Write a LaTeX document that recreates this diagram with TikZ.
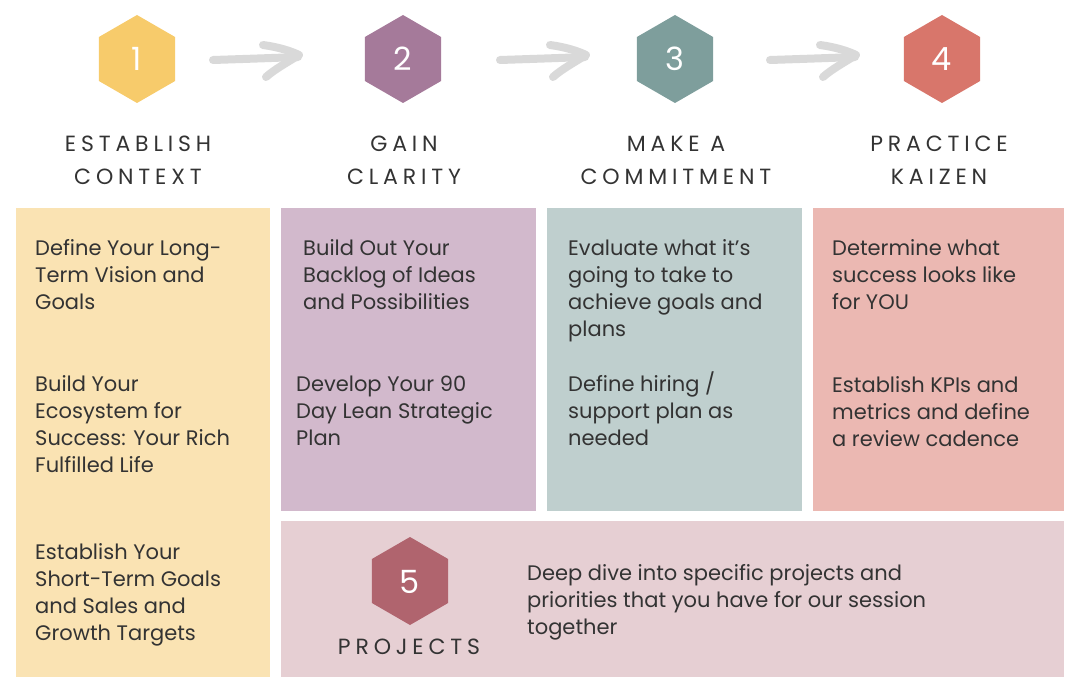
\documentclass[tikz,border=0pt]{standalone}
\usepackage{fontspec}
\setmainfont{Poppins}
\newfontfamily\titlefont[LetterSpace=22]{Poppins}
\usetikzlibrary{shapes.geometric}
\definecolor{txt}{HTML}{333333}
\definecolor{hexA}{HTML}{F7CB6B}
\definecolor{hexB}{HTML}{A57A9A}
\definecolor{hexC}{HTML}{7E9E9C}
\definecolor{hexD}{HTML}{D8766B}
\definecolor{hexE}{HTML}{B0646E}
\definecolor{boxA}{HTML}{FAE3B3}
\definecolor{boxB}{HTML}{D2B9CC}
\definecolor{boxC}{HTML}{BFCFCE}
\definecolor{boxD}{HTML}{EBB8B2}
\definecolor{boxE}{HTML}{E6CFD3}
\definecolor{arrowgrey}{HTML}{D9D9D9}
\tikzset{
  hexnode/.style={regular polygon, regular polygon sides=6, shape border rotate=90, minimum size=88pt, inner sep=0pt},
  numtext/.style={text=white, font=\fontsize{32}{32}\selectfont, inner sep=0pt, anchor=base},
  titletext/.style={text=txt, font=\titlefont\fontsize{22}{33}\selectfont, align=center, anchor=base, inner sep=0pt},
  bodytext/.style={text=txt, font=\fontsize{21}{27}\selectfont, align=left, anchor=base west, inner sep=0pt},
  handarrow/.style={draw=arrowgrey, line width=8pt, line cap=round, line join=round},
}
\begin{document}
\begin{tikzpicture}[x=1pt,y=-1pt]
\useasboundingbox (0,0) rectangle (1080,693);
% boxes
\fill[boxA] (16,208) rectangle (270,677);
\fill[boxB] (281,208) rectangle (536,511);
\fill[boxC] (547,208) rectangle (802,511);
\fill[boxD] (813,208) rectangle (1064,511);
\fill[boxE] (281,521) rectangle (1064,677);
% hexagons
\node[hexnode, fill=hexA] (h1) at (137,59) {};
\node[hexnode, fill=hexB] (h2) at (403,59) {};
\node[hexnode, fill=hexC] (h3) at (675,59) {};
\node[hexnode, fill=hexD] (h4) at (942,59) {};
\node[hexnode, fill=hexE] (h5) at (410,581) {};
\node[numtext] (n1) at (137,71) {1};
\node[numtext] (n2) at (403,71) {2};
\node[numtext] (n3) at (675,71) {3};
\node[numtext] (n4) at (942,71) {4};
\node[numtext] (n5) at (410,593) {5};
% arrows
\foreach \ax in {213,500,770}{
  \coordinate (a\ax) at (\ax,60);
  \draw[handarrow, shift={(a\ax)}] (0,0) .. controls (30,-1) and (60,-2) .. (85,-3);
  \draw[handarrow, shift={(a\ax)}] (50,-15) .. controls (65,-13) and (78,-9) .. (86,-5) .. controls (75,2) and (62,9) .. (53,17);
}
% titles (anchor = baseline of last line)
\node[titletext] (t1) at (138,184) {ESTABLISH\\CONTEXT};
\node[titletext] (t2) at (404,184) {GAIN\\CLARITY};
\node[titletext] (t3) at (676,184) {MAKE A\\COMMITMENT};
\node[titletext] (t4) at (939,184) {PRACTICE\\KAIZEN};
\node[titletext] (t5) at (409,654) {PROJECTS};
% body text (anchor = baseline of last line)
\node[bodytext] (b11) at (35,309) {Define Your Long-\\Term Vision and\\Goals};
\node[bodytext] (b12) at (35,472) {Build Your\\Ecosystem for\\Success: Your Rich\\Fulfilled Life};
\node[bodytext] (b13) at (35,640) {Establish Your\\Short-Term Goals\\and Sales and\\Growth Targets};
\node[bodytext] (b21) at (303,309) {Build Out Your\\Backlog of Ideas\\and Possibilities};
\node[bodytext] (b22) at (296,445) {Develop Your 90\\Day Lean Strategic\\Plan};
\node[bodytext] (b31) at (568,336) {Evaluate what it’s\\going to take to\\achieve goals and\\plans};
\node[bodytext] (b32) at (568,445) {Define hiring /\\support plan as\\needed};
\node[bodytext] (b41) at (832,309) {Determine what\\success looks like\\for YOU};
\node[bodytext] (b42) at (832,446) {Establish KPIs and\\metrics and define\\a review cadence};
\node[bodytext] (b51) at (527,634) {Deep dive into specific projects and\\priorities that you have for our session\\together};
\end{tikzpicture}
\end{document}
